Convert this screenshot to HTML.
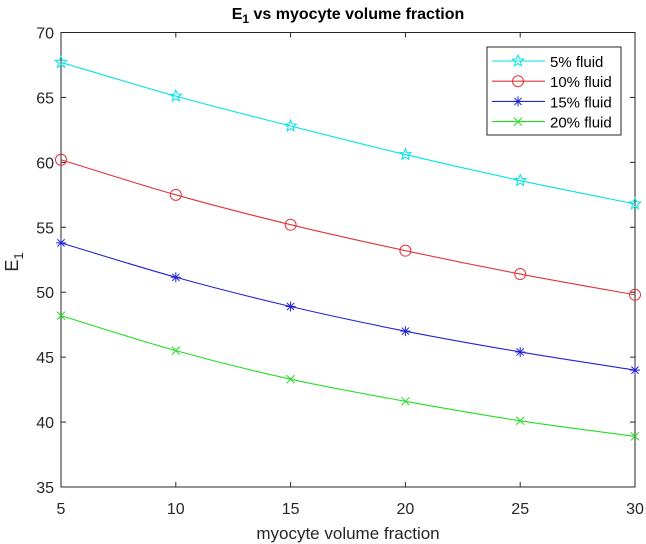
<!DOCTYPE html>
<html><head><meta charset="utf-8"><style>
html,body{margin:0;padding:0;background:#fff;}
svg{display:block;font-family:"Liberation Sans",Arial,sans-serif;}
</style></head><body>
<svg id="chart" width="646" height="544" viewBox="0 0 646 544" xmlns="http://www.w3.org/2000/svg"></svg>
<script>
const categories = [5, 10, 15, 20, 25, 30];
const fluid5 = [67.7, 65.1, 62.8, 60.6, 58.6, 56.8];
const fluid10 = [60.2, 57.5, 55.2, 53.2, 51.4, 49.8];
const fluid15 = [53.8, 51.15, 48.9, 47.0, 45.4, 44.0];
const fluid20 = [48.2, 45.5, 43.3, 41.6, 40.1, 38.9];
const seriesNames = ["5% fluid", "10% fluid", "15% fluid", "20% fluid"];
const xTicks = [5, 10, 15, 20, 25, 30];
const yTicks = [35, 40, 45, 50, 55, 60, 65, 70];

const L = 61, R = 635, T = 32.5, B = 487;
const xs = v => L + (v - 5) / 25 * (R - L);
const ys = v => B - (v - 35) / 35 * (B - T);
const svg = document.getElementById('chart');
const NS = 'http://www.w3.org/2000/svg';
function mk(tag, attrs, parent) {
  const e = document.createElementNS(NS, tag);
  for (const k in attrs) e.setAttribute(k, attrs[k]);
  (parent || svg).appendChild(e);
  return e;
}
const box = mk('rect', {x: L, y: T, width: R - L, height: B - T, fill: 'none', stroke: '#262626', 'stroke-width': 1});



xTicks.forEach(t => {
  const x = xs(t);
  mk('line', {x1: x, x2: x, y1: B, y2: B - 5, stroke: '#262626'});
  mk('line', {x1: x, x2: x, y1: T, y2: T + 5, stroke: '#262626'});
  const tx = mk('text', {x: x, y: 514, 'text-anchor': 'middle', 'font-size': 16, fill: '#262626'});
  tx.textContent = t;
  
  
});
yTicks.forEach(t => {
  const y = ys(t);
  mk('line', {x1: L, x2: L + 5, y1: y, y2: y, stroke: '#262626'});
  mk('line', {x1: R, x2: R - 5, y1: y, y2: y, stroke: '#262626'});
  const tx = mk('text', {x: 54, y: y + 6, 'text-anchor': 'end', 'font-size': 16, fill: '#262626'});
  tx.textContent = t;
  
  
});

const title = mk('text', {x: 348, y: 19, 'text-anchor': 'middle', 'font-size': 16, 'font-weight': 'bold', fill: '#000'});
title.innerHTML = 'E<tspan font-size="12" dy="4">1</tspan><tspan dy="-4"> vs myocyte volume fraction</tspan>';



const xl = mk('text', {x: 348, y: 539, 'text-anchor': 'middle', 'font-size': 17, fill: '#262626'});
xl.textContent = 'myocyte volume fraction';



const yl = mk('text', {transform: 'translate(18,262) rotate(-90)', 'text-anchor': 'middle', 'font-size': 18, fill: '#262626'});
yl.innerHTML = 'E<tspan font-size="13" dy="5">1</tspan>';



function smoothPath(pts) {
  let d = 'M' + pts[0][0] + ',' + pts[0][1];
  for (let i = 0; i < pts.length - 1; i++) {
    const p0 = pts[i - 1] || pts[i], p1 = pts[i], p2 = pts[i + 1], p3 = pts[i + 2] || p2;
    const c1 = [p1[0] + (p2[0] - p0[0]) / 6, p1[1] + (p2[1] - p0[1]) / 6];
    const c2 = [p2[0] - (p3[0] - p1[0]) / 6, p2[1] - (p3[1] - p1[1]) / 6];
    d += ' C' + c1 + ' ' + c2 + ' ' + p2;
  }
  return d;
}
function marker(type, x, y, color, parent) {
  const g = mk('g', {stroke: color, fill: 'none', 'stroke-width': 1}, parent);
  if (type === 'star') {
    let p = [];
    for (let i = 0; i < 10; i++) {
      const r = i % 2 ? 2.6 : 6, a = -Math.PI / 2 + i * Math.PI / 5;
      p.push((x + r * Math.cos(a)).toFixed(2) + ',' + (y + r * Math.sin(a)).toFixed(2));
    }
    mk('polygon', {points: p.join(' ')}, g);
  } else if (type === 'circle') {
    mk('circle', {cx: x, cy: y, r: 5.5}, g);
  } else if (type === 'asterisk') {
    mk('path', {d: `M${x-5},${y}H${x+5}M${x},${y-5}V${y+5}M${x-3.6},${y-3.6}L${x+3.6},${y+3.6}M${x-3.6},${y+3.6}L${x+3.6},${y-3.6}`}, g);
  } else {
    mk('path', {d: `M${x-4},${y-4}L${x+4},${y+4}M${x-4},${y+4}L${x+4},${y-4}`}, g);
  }
  return g;
}
const allSeries = [fluid5, fluid10, fluid15, fluid20];
const colors = ['#00e5e5', '#e0333a', '#2323d6', '#22dd22'];
const markers = ['star', 'circle', 'asterisk', 'x'];
allSeries.forEach((vals, si) => {
  const g = mk('g', {});
  
  
  const pts = vals.map((v, i) => [xs(categories[i]), ys(v)]);
  mk('path', {d: smoothPath(pts), fill: 'none', stroke: colors[si], 'stroke-width': 1.1}, g);
  pts.forEach(p => {
    const m = marker(markers[si], p[0], p[1], colors[si], g);
    
    
  });
});

const lg = mk('g', {});


mk('rect', {x: 487, y: 47, width: 134, height: 88, fill: '#fff', stroke: '#262626'}, lg);
seriesNames.forEach((n, i) => {
  const y = 61 + i * 20.2;
  const e = mk('g', {}, lg);
  
  
  mk('line', {x1: 492, x2: 545, y1: y, y2: y, stroke: colors[i], 'stroke-width': 1.1}, e);
  marker(markers[i], 518, y, colors[i], e);
  const t = mk('text', {x: 550, y: y + 6, 'font-size': 15, fill: '#000'}, e);
  t.textContent = n;
});
</script>
</body></html>
